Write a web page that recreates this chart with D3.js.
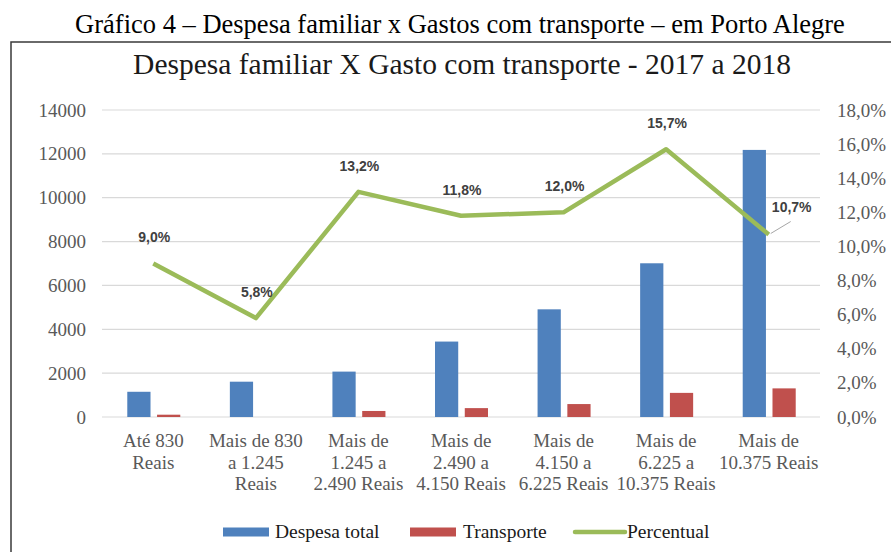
<!DOCTYPE html>
<html>
<head>
<meta charset="utf-8">
<script src="https://cdn.jsdelivr.net/npm/d3@7"></script>
<style>
  body { margin: 0; background: #fff; }
</style>
</head>
<body>
<svg id="chart" width="891" height="552"></svg>
<script>
// categories and series
const categories = [
  ["Até 830", "Reais"],
  ["Mais de 830", "a 1.245", "Reais"],
  ["Mais de", "1.245 a", "2.490 Reais"],
  ["Mais de", "2.490 a", "4.150 Reais"],
  ["Mais de", "4.150 a", "6.225 Reais"],
  ["Mais de", "6.225 a", "10.375 Reais"],
  ["Mais de", "10.375 Reais"]
]
const despesaTotal = [1150, 1610, 2070, 3440, 4910, 7010, 12180]
const transporte = [105, 0, 275, 405, 590, 1100, 1305]
const percentual = [9.0, 5.8, 13.2, 11.8, 12.0, 15.7, 10.7]
const leftTicks = [0, 2000, 4000, 6000, 8000, 10000, 12000, 14000]
const rightTicks = [0, 2, 4, 6, 8, 10, 12, 14, 16, 18]

const colors = { despesa: "#4F81BD", transporte: "#C0504D", percentual: "#9BBB59" }
const serif = "Liberation Serif, Times New Roman, serif"
const sans = "Liberation Sans, Arial, sans-serif"

const svg = d3.select("#chart")
const keys = categories.map((c, i) => i)

const x = d3.scaleBand().domain(keys).range([102, 820]).padding(0)
const inner = d3.scaleBand().domain(["d", "t"]).range([-26, 27]).paddingInner(0.22)
const yLeft = d3.scaleLinear().domain([0, 14000]).range([417, 110])
const yRight = d3.scaleLinear().domain([0, 18]).range([417, 110])
const fmtPct = v => d3.format(".1f")(v).replace(".", ",") + "%"

// caption above the frame
svg.append("text")
  .attr("x", 460).attr("y", 33)
  .attr("text-anchor", "middle")
  .attr("font-family", serif)
  .attr("font-size", 26.5)
  .attr("fill", "#000")
  .text("Gráfico 4 – Despesa familiar x Gastos com transporte – em Porto Alegre")

// frame (only top and left are visible)
svg.append("path")
  .attr("d", "M11,552 V42 H891")
  .attr("fill", "none")
  .attr("stroke", "#3a3a3a")
  .attr("stroke-width", 1.5)

svg.append("text")
  .attr("x", 462).attr("y", 74)
  .attr("text-anchor", "middle")
  .attr("font-family", serif)
  .attr("font-size", 29.5)
  .attr("fill", "#1a1a1a")
  .text("Despesa familiar X Gasto com transporte - 2017 a 2018")

// gridlines
svg.append("g")
  .selectAll("line")
  .data(leftTicks)
  .enter().append("line")
  .attr("x1", 102).attr("x2", 820)
  .attr("y1", d => yLeft(d)).attr("y2", d => yLeft(d))
  .attr("stroke", "#D9D9D9")
  .attr("stroke-width", 1.2)

// left axis
const axL = svg.append("g")
  .attr("transform", "translate(102,0)")
  .call(d3.axisLeft(yLeft).tickValues(leftTicks).tickSize(0).tickPadding(16).tickFormat(d3.format("d")))
axL.select(".domain").remove()
axL.selectAll("text")
  .attr("font-family", serif)
  .attr("font-size", 19)
  .attr("fill", "#595959")

// right axis
const axR = svg.append("g")
  .attr("transform", "translate(820,0)")
  .call(d3.axisRight(yRight).tickValues(rightTicks).tickSize(0).tickPadding(17).tickFormat(fmtPct))
axR.select(".domain").remove()
axR.selectAll("text")
  .attr("font-family", serif)
  .attr("font-size", 19)
  .attr("fill", "#595959")

// bars
const groups = svg.append("g").selectAll("g")
  .data(keys)
  .enter().append("g")
  .attr("transform", d => `translate(${x(d) + x.bandwidth() / 2},0)`)

groups.append("rect")
  .attr("x", inner("d"))
  .attr("width", inner.bandwidth())
  .attr("y", d => yLeft(despesaTotal[d]))
  .attr("height", d => yLeft(0) - yLeft(despesaTotal[d]))
  .attr("fill", colors.despesa)

groups.append("rect")
  .attr("x", inner("t"))
  .attr("width", inner.bandwidth())
  .attr("y", d => yLeft(transporte[d]))
  .attr("height", d => yLeft(0) - yLeft(transporte[d]))
  .attr("fill", colors.transporte)

// x category labels
const xl = groups.append("text")
  .attr("text-anchor", "middle")
  .attr("font-family", serif)
  .attr("font-size", 19)
  .attr("fill", "#595959")
xl.selectAll("tspan")
  .data(d => categories[d])
  .enter().append("tspan")
  .attr("x", 0)
  .attr("y", (d, i) => 447 + i * 21.5)
  .text(d => d)

// percent line
const line = d3.line()
  .x(d => x(d) + x.bandwidth() / 2)
  .y(d => yRight(percentual[d]))

svg.append("path")
  .datum(keys)
  .attr("d", line)
  .attr("fill", "none")
  .attr("stroke", colors.percentual)
  .attr("stroke-width", 4.5)
  .attr("stroke-linejoin", "round")

// data labels
const labelShift = keys.map(i => i === 6 ? [23, -27] : [1, -26])
const lastPx = x(6) + x.bandwidth() / 2
svg.append("line")
  .attr("x1", lastPx + 2).attr("y1", yRight(percentual[6]) - 1)
  .attr("x2", lastPx + 22).attr("y2", yRight(percentual[6]) - 13)
  .attr("stroke", "#A6A6A6")
  .attr("stroke-width", 1)

svg.append("g").selectAll("text")
  .data(keys)
  .enter().append("text")
  .attr("x", d => x(d) + x.bandwidth() / 2 + labelShift[d][0])
  .attr("y", d => yRight(percentual[d]) + labelShift[d][1])
  .attr("dy", "0.35em")
  .attr("text-anchor", "middle")
  .attr("font-family", sans)
  .attr("font-weight", "bold")
  .attr("font-size", 14)
  .attr("fill", "#404040")
  .text(d => fmtPct(percentual[d]))

// legend
const legendItems = [
  { label: "Despesa total", color: colors.despesa, type: "rect", x: 223, tx: 275 },
  { label: "Transporte", color: colors.transporte, type: "rect", x: 410, tx: 463 },
  { label: "Percentual", color: colors.percentual, type: "line", x: 573, tx: 627 }
]
const lg = svg.append("g").selectAll("g")
  .data(legendItems)
  .enter().append("g")
  .attr("transform", d => `translate(${d.x},532)`)

lg.filter(d => d.type === "rect").append("rect")
  .attr("x", 0).attr("y", -4.5)
  .attr("width", 46).attr("height", 9)
  .attr("fill", d => d.color)
lg.filter(d => d.type === "line").append("line")
  .attr("x1", 2).attr("x2", 52)
  .attr("y1", 0).attr("y2", 0)
  .attr("stroke", d => d.color)
  .attr("stroke-width", 4.5)
  .attr("stroke-linecap", "round")
lg.append("text")
  .attr("x", d => d.tx - d.x)
  .attr("y", 0)
  .attr("dy", "0.33em")
  .attr("font-family", serif)
  .attr("font-size", 19.5)
  .attr("fill", "#1a1a1a")
  .text(d => d.label)
</script>
</body>
</html>
